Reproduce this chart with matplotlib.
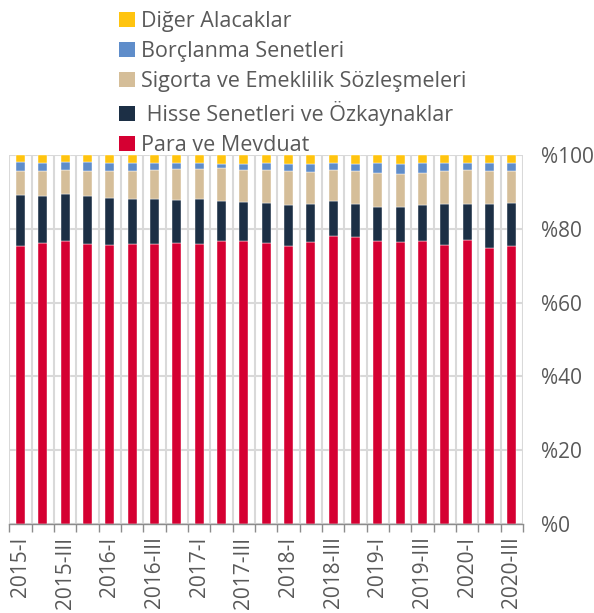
import matplotlib
matplotlib.use("Agg")
import matplotlib.pyplot as plt
from matplotlib.patches import Patch
import numpy as np

plt.rcParams['font.family'] = ['Open Sans', 'DejaVu Sans']

categories = ["2015-I", "2015-II", "2015-III", "2015-IV",
              "2016-I", "2016-II", "2016-III", "2016-IV",
              "2017-I", "2017-II", "2017-III", "2017-IV",
              "2018-I", "2018-II", "2018-III", "2018-IV",
              "2019-I", "2019-II", "2019-III", "2019-IV",
              "2020-I", "2020-II", "2020-III"]

para = [75.4, 76.1, 76.8, 75.9, 75.6, 75.9, 75.8, 76.1, 75.8, 76.8, 76.7, 76.1,
        75.4, 76.4, 78.0, 77.7, 76.7, 76.3, 76.7, 75.5, 77.0, 74.8, 75.4]
hisse = [13.7, 12.9, 12.7, 12.9, 12.8, 12.3, 12.2, 11.8, 12.3, 10.7, 10.5, 11.0,
         11.0, 10.4, 9.4, 8.9, 9.3, 9.7, 9.8, 11.2, 9.7, 12.0, 11.6]
sigorta = [6.5, 6.6, 6.4, 6.9, 7.3, 7.5, 7.9, 8.3, 8.0, 8.9, 8.8, 8.8,
           9.2, 8.7, 8.4, 9.1, 9.0, 8.9, 8.6, 9.0, 9.2, 8.9, 8.7]
borc = [2.4, 2.3, 2.3, 2.3, 2.2, 2.2, 2.0, 1.6, 1.7, 1.2, 1.6, 2.0,
        2.0, 2.1, 2.0, 1.9, 2.7, 2.7, 2.6, 2.0, 1.9, 2.0, 2.2]
diger = [2.0, 2.1, 1.8, 2.0, 2.1, 2.1, 2.1, 2.2, 2.2, 2.4, 2.4, 2.1,
         2.4, 2.4, 2.2, 2.4, 2.3, 2.4, 2.3, 2.3, 2.2, 2.3, 2.1]

series_names = ["Para ve Mevduat", " Hisse Senetleri ve Özkaynaklar",
                "Sigorta ve Emeklilik Sözleşmeleri", "Borçlanma Senetleri",
                "Diğer Alacaklar"]
series_vals = [para, hisse, sigorta, borc, diger]
colors = ["#D50032", "#1C2F45", "#D5BE99", "#5F8DCA", "#FFC40F"]

yticks = [0, 20, 40, 60, 80, 100]
ytick_labels = ["%0", "%20", "%40", "%60", "%80", "%100"]

text_color = "#595959"

fig = plt.figure(figsize=(5.94, 6.13), dpi=100)
ax = fig.add_axes([9.3 / 594, 1 - 524 / 613, 513.7 / 594, 369 / 613])

x = np.arange(len(categories))
bottom = np.zeros(len(categories))
for name, vals, c in zip(series_names, series_vals, colors):
    v = np.array(vals)
    ax.bar(x, v, bottom=bottom, width=0.4, color=c, label=name, zorder=3,
           edgecolor="white", linewidth=0.3)
    bottom += v

ax.set_xlim(-0.5, len(categories) - 0.5)
ax.set_ylim(0, 100)

# y axis on right
ax.yaxis.tick_right()
ax.set_yticks(yticks)
ax.set_yticklabels(ytick_labels, fontsize=15, color=text_color)
ax.tick_params(axis='y', length=0, pad=13)
ax.grid(axis='y', color="#D9D9D9", linewidth=1.5, zorder=0)

# x axis: labels at every other category, ticks at boundaries
ax.set_xticks(x[::2])
ax.set_xticklabels(categories[::2], rotation=90, fontsize=15, color=text_color)
ax.tick_params(axis='x', which='major', length=0, pad=9)
bounds = np.arange(-0.5, len(categories), 1.0)
ax.set_xticks(bounds, minor=True)
ax.tick_params(axis='x', which='minor', length=6, width=1, color="#8C8C8C")
ax.grid(axis='x', which='minor', color="#D9D9D9", linewidth=1.5, zorder=0)

for s in ["top", "left", "right"]:
    ax.spines[s].set_visible(False)
ax.spines["bottom"].set_color("#8C8C8C")
ax.spines["bottom"].set_linewidth(1)
ax.spines["bottom"].set_zorder(4)

handles = [Patch(facecolor=c, edgecolor="none") for c in colors][::-1]
labels = series_names[::-1]
leg = fig.legend(handles, labels, loc="upper left", bbox_to_anchor=(119 / 594, 1 - 11 / 613),
                 frameon=False, fontsize=15.5, handlelength=0.72, handleheight=0.72,
                 handletextpad=0.3, labelspacing=0.42, borderaxespad=0, borderpad=0)
for t in leg.get_texts():
    t.set_color(text_color)

fig.savefig("out.png", dpi=100)
